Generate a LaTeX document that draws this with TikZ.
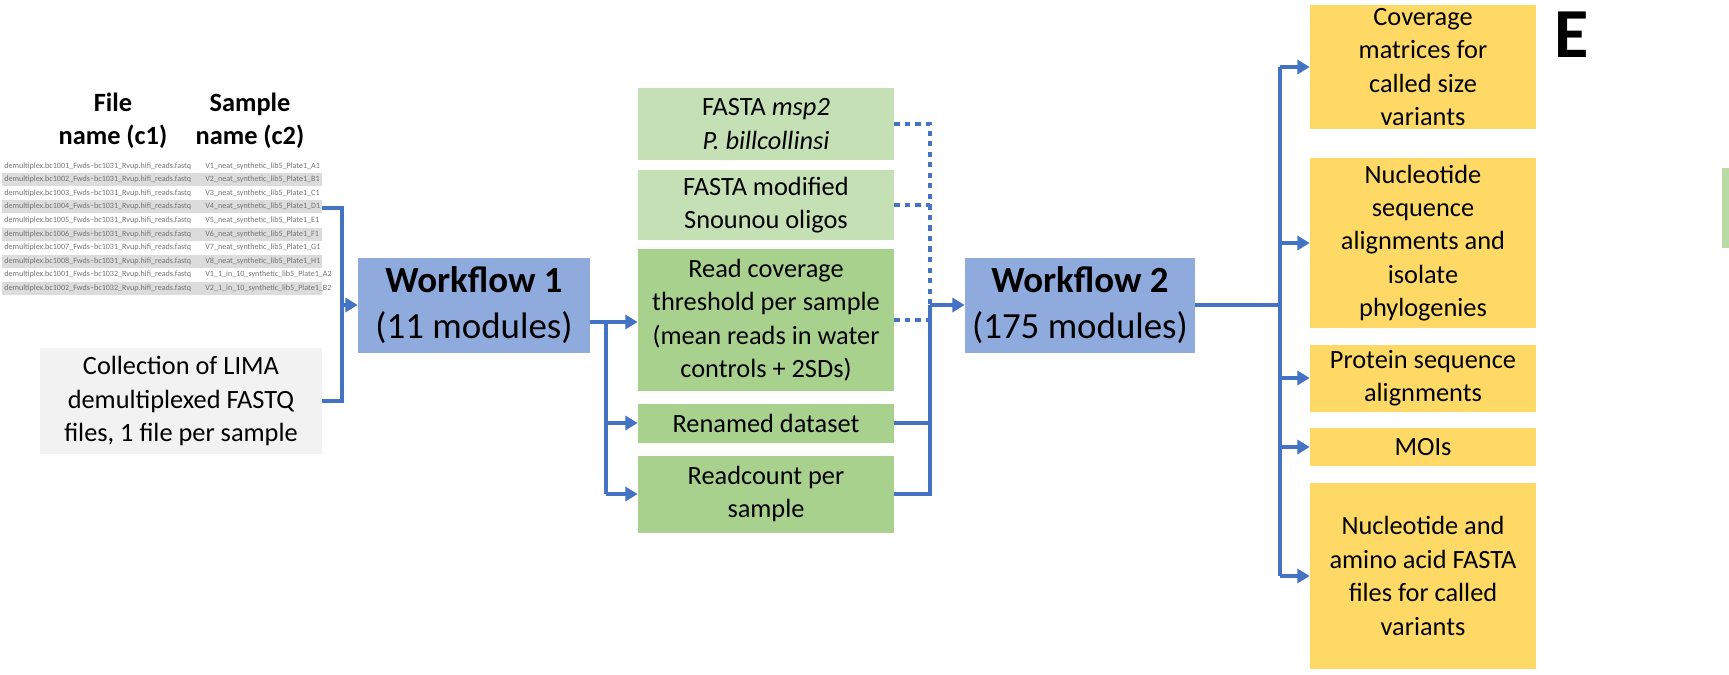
\documentclass[tikz,border=0pt]{standalone}
\usepackage{fontspec}
\setmainfont{Carlito}
\usetikzlibrary{arrows.meta}
\definecolor{arr}{HTML}{4472C4}
\definecolor{wf}{HTML}{8FAADC}
\definecolor{lg}{HTML}{C5E0B4}
\definecolor{dg}{HTML}{A9D18E}
\definecolor{ye}{HTML}{FFD966}
\definecolor{gr}{HTML}{F2F2F2}
\definecolor{rowg}{HTML}{DCDCDC}
\begin{document}
\begin{tikzpicture}[x=0.02cm,y=-0.02cm,
  box/.style={draw=none,align=center,inner sep=2pt,font=\fontsize{15}{19}\selectfont},
  wfb/.style={box,fill=wf,font=\fontsize{21}{26}\selectfont},
  ln/.style={arr,line width=2.3pt},
  ar/.style={ln,-{Triangle[length=7pt,width=8pt]}},
  dt/.style={arr,line width=2.3pt,dash pattern=on 3pt off 3pt},
  tb/.style={font=\fontsize{4.6}{5}\selectfont,text=black!55,inner sep=0,anchor=west}]
% header
\node[box,font=\fontsize{15}{19}\selectfont\bfseries] (h1) at (113,121) {File\\name (c1)};
\node[box,font=\fontsize{15}{19}\selectfont\bfseries] (h2) at (250,121) {Sample\\name (c2)};
% table
\foreach \i/\f/\s in {1/1001/V1\_neat\_synthetic\_lib5\_Plate1\_A1,2/1002/V2\_neat\_synthetic\_lib5\_Plate1\_B1,3/1003/V3\_neat\_synthetic\_lib5\_Plate1\_C1,4/1004/V4\_neat\_synthetic\_lib5\_Plate1\_D1,5/1005/V5\_neat\_synthetic\_lib5\_Plate1\_E1,6/1006/V6\_neat\_synthetic\_lib5\_Plate1\_F1,7/1007/V7\_neat\_synthetic\_lib5\_Plate1\_G1,8/1008/V8\_neat\_synthetic\_lib5\_Plate1\_H1}{
  \pgfmathsetmacro\yy{166+(\i-1)*13.6}
  \ifodd\i\else\fill[rowg] (2,\yy-6.5) rectangle (322,\yy+6.5);\fi
  \node[tb] at (4,\yy) {demultiplex.bc\f\_Fwds--bc1031\_Rvup.hifi\_reads.fastq};
  \node[tb] at (205,\yy) {\s};
}
\node[tb] at (4,274.8) {demultiplex.bc1001\_Fwds--bc1032\_Rvup.hifi\_reads.fastq};
\node[tb] at (205,274.8) {V1\_1\_in\_10\_synthetic\_lib5\_Plate1\_A2};
\fill[rowg] (2,282) rectangle (322,295);
\node[tb] at (4,288.4) {demultiplex.bc1002\_Fwds--bc1032\_Rvup.hifi\_reads.fastq};
\node[tb] at (205,288.4) {V2\_1\_in\_10\_synthetic\_lib5\_Plate1\_B2};
\coordinate (tab) at (322,208);
% collection
\node[box,fill=gr,minimum width=5.64cm,minimum height=2.12cm] (col) at (181,401) {Collection of LIMA\\demultiplexed FASTQ\\files, 1 file per sample};
% workflows
\node[wfb,minimum width=4.64cm,minimum height=1.9cm] (w1) at (474,305) {\textbf{Workflow 1}\\(11 modules)};
\node[wfb,minimum width=4.6cm,minimum height=1.9cm] (w2) at (1080,305) {\textbf{Workflow 2}\\(175 modules)};
% green
\node[box,fill=lg,minimum width=5.12cm,minimum height=1.44cm] (g1) at (766,124) {FASTA \textit{msp2}\\\textit{P. billcollinsi}};
\node[box,fill=lg,minimum width=5.12cm,minimum height=1.4cm] (g2) at (766,205) {FASTA modified\\Snounou oligos};
\node[box,fill=dg,minimum width=5.12cm,minimum height=2.86cm] (g3) at (766,320) {Read coverage\\threshold per sample\\(mean reads in water\\controls + 2SDs)};
\node[box,fill=dg,minimum width=5.12cm,minimum height=0.78cm] (g4) at (766,423) {Renamed dataset};
\node[box,fill=dg,minimum width=5.12cm,minimum height=1.54cm] (g5) at (766,494) {Readcount per\\sample};
% yellow
\node[box,fill=ye,minimum width=4.52cm,minimum height=2.5cm] (y1) at (1423,67) {Coverage\\matrices for\\called size\\variants};
\node[box,fill=ye,minimum width=4.52cm,minimum height=3.4cm] (y2) at (1423,243) {Nucleotide\\sequence\\alignments and\\isolate\\phylogenies};
\node[box,fill=ye,minimum width=4.52cm,minimum height=1.34cm] (y3) at (1423,378) {Protein sequence\\alignments};
\node[box,fill=ye,minimum width=4.52cm,minimum height=0.76cm] (y4) at (1423,447) {MOIs};
\node[box,fill=ye,minimum width=4.52cm,minimum height=3.74cm] (y5) at (1423,576) {Nucleotide and\\amino acid FASTA\\files for called\\variants};
\node[font=\fontsize{40}{40}\selectfont\bfseries,inner sep=0] (E) at (1572,35) {E};
\fill[dg!80] (1722,168) rectangle (1729,248);
% connectors
\coordinate (j1) at (342,305);
\draw[ln] (tab) -| (j1);
\draw[ln] (col.east) -| (j1);
\draw[ar] (j1) -- (w1.west);
\coordinate (j2) at (606,322);
\coordinate (w1o) at (w1.east |- j2);
\draw[ln] (w1o) -- (j2);
\draw[ar] (j2) -- (g3.west |- j2);
\draw[ln] (j2) |- (g4.west -| j2);
\draw[ar] (g4.west -| j2) -- (g4.west);
\draw[ln] (j2) |- (g5.west -| j2);
\draw[ar] (g5.west -| j2) -- (g5.west);
\coordinate (j3) at (930,305);
\draw[dt] (g1.east) -| (j3);
\draw[dt] (g2.east) -- (g2.east -| j3);
\draw[dt] (g3.east) -- (g3.east -| j3);
\draw[ln] (g4.east) -| (j3);
\draw[ln] (g5.east) -| (j3);
\draw[ar] (j3) -- (w2.west);
\coordinate (j4) at (1280,305);
\draw[ln] (w2.east) -- (j4);
\draw[ln] (j4 |- y1.west) -- (j4 |- y5.west);
\foreach \n in {y1,y2,y3,y4,y5} \draw[ar] (j4 |- \n.west) -- (\n.west);
\pgfresetboundingbox
\useasboundingbox (0,0) rectangle (1729,674);
\end{tikzpicture}
\end{document}
